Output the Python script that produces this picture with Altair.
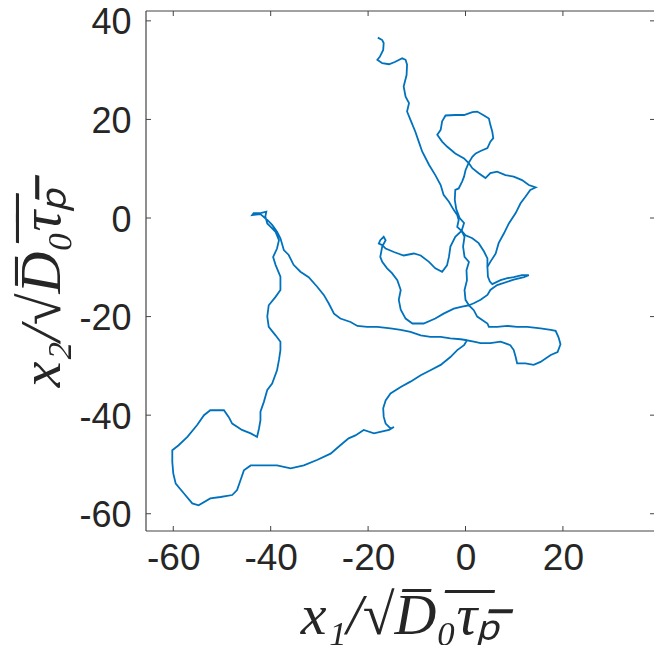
import altair as alt
import pandas as pd

# ---- data (x1/sqrt(D0 tau_p), x2/sqrt(D0 tau_p)) ----
# piece A: top tip -> knot near origin -> upper loop -> right arm -> spur -> hub
a_x = [-18.0, -17.1, -16.8, -16.9, -17.6, -18.1, -17.1, -15.7, -14.4, -13.0, -12.3, -12.0, -12.1, -12.7,
       -12.3, -11.6, -12.0, -11.3, -10.3, -9.6, -8.9, -7.5, -6.2, -5.1, -4.5, -3.4, -2.4, -1.7, -1.4, -1.7,
       -0.8, -0.3, -1.2, -1.9, -2.2,
       -2.1, -1.4, -0.7, -0.3, 0.0, 0.6, 1.4, 2.1, 3.1, 4.5, 5.1, 5.7, 5.5, 5.1, 4.8, 3.8, 2.4, 1.4, -0.3,
       -2.1, -4.1, -4.8, -5.1, -5.8, -4.8, -3.8, -2.1, -0.3, 0.7, 1.4, 2.7, 4.1, 5.1, 6.5, 8.2, 9.9, 11.6,
       13.0, 14.4, 13.3, 12.3, 11.3, 10.3, 8.9, 7.9, 6.8, 6.2, 5.1, 4.5, 4.6, 5.0,
       5.5, 7.2, 8.6, 9.9, 11.6, 13.0, 12.0, 9.9, 6.5, 5.5, 5.1, 4.5, 3.1, 1.7, 0.7]
a_y = [36.6, 36.1, 35.5, 34.1, 32.7, 32.1, 31.4, 31.2, 31.7, 32.4, 32.1, 31.1, 29.0, 26.7,
       24.6, 23.3, 21.6, 19.9, 17.5, 15.5, 13.5, 10.8, 8.7, 6.7, 4.7, 3.3, 1.6, 0.6, -0.4, -1.8,
       -2.6, -1.0, 0.0, 1.8, 3.7,
       5.7, 6.0, 7.4, 8.4, 9.7, 11.1, 12.4, 13.1, 13.6, 14.2, 15.5, 16.2, 17.5, 18.9, 20.2, 20.8, 21.6, 21.5, 20.9,
       20.9, 20.8, 19.6, 17.9, 16.9, 15.5, 14.5, 13.1, 12.1, 11.1, 10.1, 9.1, 8.1, 9.1, 9.4, 8.7, 8.4, 7.7,
       6.7, 6.2, 5.7, 4.3, 3.0, 1.0, -1.1, -3.1, -5.1, -7.2, -8.9, -9.9, -11.9, -12.9,
       -13.4, -12.6, -12.2, -12.0, -11.6, -11.6, -12.0, -12.5, -13.6, -14.3, -14.6, -15.6, -16.6, -17.3, -17.7]

# piece B: knot -> straight down to the hub
b_x = [-0.8, -0.2, -0.5, -0.2, 0.7, 0.2, 0.3, -0.2, 0.0, 0.7]
b_y = [-2.6, -3.8, -5.8, -7.9, -8.9, -10.6, -12.6, -14.6, -16.6, -17.7]

# piece C: right arm -> knot -> left tip -> hub -> right loop -> big lower-left tour
c_x = [4.5, 4.5, 3.8, 2.7, 1.4, 0.0, -0.8,
       -2.1, -3.1, -3.4, -3.8, -4.8, -6.2, -7.5, -9.2, -10.6, -12.7, -14.7, -16.4, -17.1, -17.8, -17.5,
       -16.8, -16.4, -17.1,
       -17.5, -17.1, -16.1, -15.1, -14.0, -13.3, -13.7, -13.3, -12.3, -10.9, -8.6, -6.2, -4.5, -2.4, -0.7, 0.7,
       1.7, 2.4, 4.5, 4.8, 6.5, 8.6, 10.6, 12.7, 15.4, 17.5, 18.5, 19.1, 19.5, 18.9, 17.5, 15.4, 14.0, 12.3,
       10.6, 10.3, 9.9, 9.2, 7.2, 5.1, 3.1, 1.7, 0.3,
       -0.3, -1.7, -3.1, -5.1, -7.2, -9.2, -11.3, -13.3, -15.4, -16.4, -16.9, -16.8, -16.4, -15.4, -14.7,
       -15.7, -17.5, -18.8, -20.9, -22.6, -24.0, -25.7, -27.7, -30.5, -33.2, -35.9, -38.7, -41.4, -44.1,
       -45.5, -46.2, -46.9, -47.9, -50.3, -52.4, -54.8, -56.1, -57.8, -59.5, -60.0, -60.2, -60.2, -58.9,
       -57.1, -55.1, -53.7, -52.4, -49.6, -48.6, -47.9, -45.9, -44.1, -42.8, -42.4, -42.1, -42.1, -41.4,
       -40.7, -39.7, -38.7, -38.3, -38.0, -38.0, -39.0, -40.4, -40.7, -40.4, -39.0, -38.0, -38.0, -39.0,
       -39.5, -38.7, -38.3, -39.0, -40.0, -40.7, -41.1, -40.9, -42.1, -43.5, -43.8, -42.1, -40.7, -39.7,
       -38.7, -38.0, -37.3, -36.3, -35.3, -33.9, -32.2, -30.5, -29.1, -28.1, -27.0, -25.7, -23.6, -22.2,
       -20.2, -18.1, -15.4, -13.3, -11.3, -9.2, -7.2, -5.1, -3.1, -1.0, 0.3]
c_y = [-9.9, -8.2, -6.8, -5.1, -4.1, -3.5, -2.6,
       -3.8, -5.8, -7.9, -9.6, -10.9, -10.2, -8.9, -7.6, -7.2, -7.6, -6.9, -6.2, -5.5, -5.2, -4.5,
       -3.8, -4.5, -5.8,
       -7.9, -8.9, -10.2, -11.2, -12.6, -14.6, -16.6, -18.6, -20.4, -21.4, -21.4, -20.4, -19.4, -18.4, -18.0, -17.7,
       -18.7, -20.0, -21.4, -22.1, -22.1, -21.9, -22.1, -22.1, -22.4, -22.7, -22.9, -24.2, -25.6, -27.2, -27.8,
       -29.2, -29.8, -29.5, -29.5, -28.2, -26.8, -25.8, -25.1, -25.4, -25.4, -25.1, -24.8,
       -25.8, -26.8, -28.2, -29.8, -30.9, -31.9, -33.2, -34.3, -35.6, -37.0, -38.6, -40.3, -41.7, -42.7, -42.4,
       -43.0, -43.4, -43.7, -43.0, -44.1, -44.7, -46.1, -47.8, -49.1, -50.2, -50.8, -50.2, -50.2, -50.2,
       -51.2, -53.2, -55.2, -56.2, -56.6, -56.9, -58.3, -57.9, -55.9, -53.9, -51.8, -49.5, -47.1, -46.1,
       -44.4, -42.0, -40.0, -39.0, -39.0, -40.4, -41.7, -43.0, -43.7, -44.4, -42.7, -41.0, -39.3, -37.3,
       -34.9, -33.6, -30.9, -28.8, -26.8, -25.1, -23.8, -22.1, -20.0, -17.7, -16.0, -14.6, -11.9, -9.5,
       -7.9, -6.2, -4.5, -2.8, -1.8, -1.1, 0.3, 1.3, 1.0, 1.0, 0.6, 0.8, -0.4, -1.4,
       -2.8, -4.1, -6.5, -7.5, -9.5, -10.9, -12.0, -13.9, -15.6, -17.3, -19.4, -20.4, -21.1, -21.9,
       -22.1, -22.1, -22.4, -22.7, -23.1, -23.8, -24.1, -24.1, -24.4, -24.6, -24.8]

x_ticks = [-60, -40, -20, 0, 20]
y_ticks = [-60, -40, -20, 0, 20, 40]
x_domain = [-65.6, 38.7]
y_domain = [-63.5, 42.0]

rows = []
for name, xs, ys in (("A", a_x, a_y), ("B", b_x, b_y), ("C", c_x, c_y)):
    for i, (xv, yv) in enumerate(zip(xs, ys)):
        rows.append({"seg": name, "i": i, "x": xv, "y": yv})
df = pd.DataFrame(rows)

W, H = 508, 520
AX = "#444444"
TXT = "#262626"

xscale = alt.Scale(domain=x_domain, nice=False, zero=False)
yscale = alt.Scale(domain=y_domain, nice=False, zero=False)

x_title = "x\u2081/\u221aD\u0305\u2080\u0305\u03c4\u0305\u209a\u0305"
y_title = "x\u2082/\u221aD\u0305\u2080\u0305\u03c4\u0305\u209a\u0305"
hyphen = "replace(datum.label, '\u2212', '-')"

x_axis = alt.Axis(values=x_ticks, ticks=False, domain=False, grid=False,
                  labelFontSize=37, labelFont="Liberation Sans", labelColor=TXT,
                  labelPadding=9, labelExpr=hyphen, title=x_title, titleFontSize=58,
                  titleFont="Liberation Serif", titleFontStyle="italic",
                  titleFontWeight="normal", titleColor=TXT,
                  titleY=85, titleBaseline="middle")
y_axis = alt.Axis(values=y_ticks, ticks=False, domain=False, grid=False,
                  labelFontSize=36, labelFont="Liberation Sans", labelColor=TXT,
                  labelPadding=15, labelOffset=2, labelExpr=hyphen,
                  title=y_title, titleFontSize=58,
                  titleFont="Liberation Serif", titleFontStyle="italic",
                  titleFontWeight="normal", titleColor=TXT,
                  titleX=-104, titleY=276, titleBaseline="middle")

line = alt.Chart(df).mark_line(color="#0072BD", strokeWidth=1.8).encode(
    x=alt.X("x:Q", scale=xscale, axis=x_axis),
    y=alt.Y("y:Q", scale=yscale, axis=y_axis),
    detail="seg:N",
    order="i:Q",
)

xt = pd.DataFrame({"x": x_ticks})
yt = pd.DataFrame({"y": y_ticks})
one = pd.DataFrame({"k": [0]})

bottom_ticks = alt.Chart(xt).mark_rule(color=AX, strokeWidth=1).encode(
    x=alt.X("x:Q", scale=xscale, axis=x_axis), y=alt.value(H), y2=alt.value(H - 5))
top_ticks = alt.Chart(xt).mark_rule(color=AX, strokeWidth=1).encode(
    x=alt.X("x:Q", scale=xscale, axis=x_axis), y=alt.value(0), y2=alt.value(5))
left_ticks = alt.Chart(yt).mark_rule(color=AX, strokeWidth=1).encode(
    y=alt.Y("y:Q", scale=yscale, axis=y_axis), x=alt.value(0), x2=alt.value(5))
right_ticks = alt.Chart(yt).mark_rule(color=AX, strokeWidth=1).encode(
    y=alt.Y("y:Q", scale=yscale, axis=y_axis), x=alt.value(W), x2=alt.value(W - 4))

frame_top = alt.Chart(one).mark_rule(color=AX, strokeWidth=1.2).encode(
    x=alt.value(0), x2=alt.value(W), y=alt.value(0))
frame_bottom = alt.Chart(one).mark_rule(color=AX, strokeWidth=1.2).encode(
    x=alt.value(0), x2=alt.value(W), y=alt.value(H))
frame_left = alt.Chart(one).mark_rule(color=AX, strokeWidth=1.2).encode(
    x=alt.value(0), y=alt.value(0), y2=alt.value(H))

chart = alt.layer(line, bottom_ticks, top_ticks, left_ticks, right_ticks,
                  frame_top, frame_bottom, frame_left).properties(
    width=W, height=H,
    autosize="none",
    padding={"left": 138, "top": 3, "right": 0, "bottom": 114},
    background="white",
).configure_view(stroke=None)

chart.save("out.html", embed_options={"renderer": "svg", "actions": False})
